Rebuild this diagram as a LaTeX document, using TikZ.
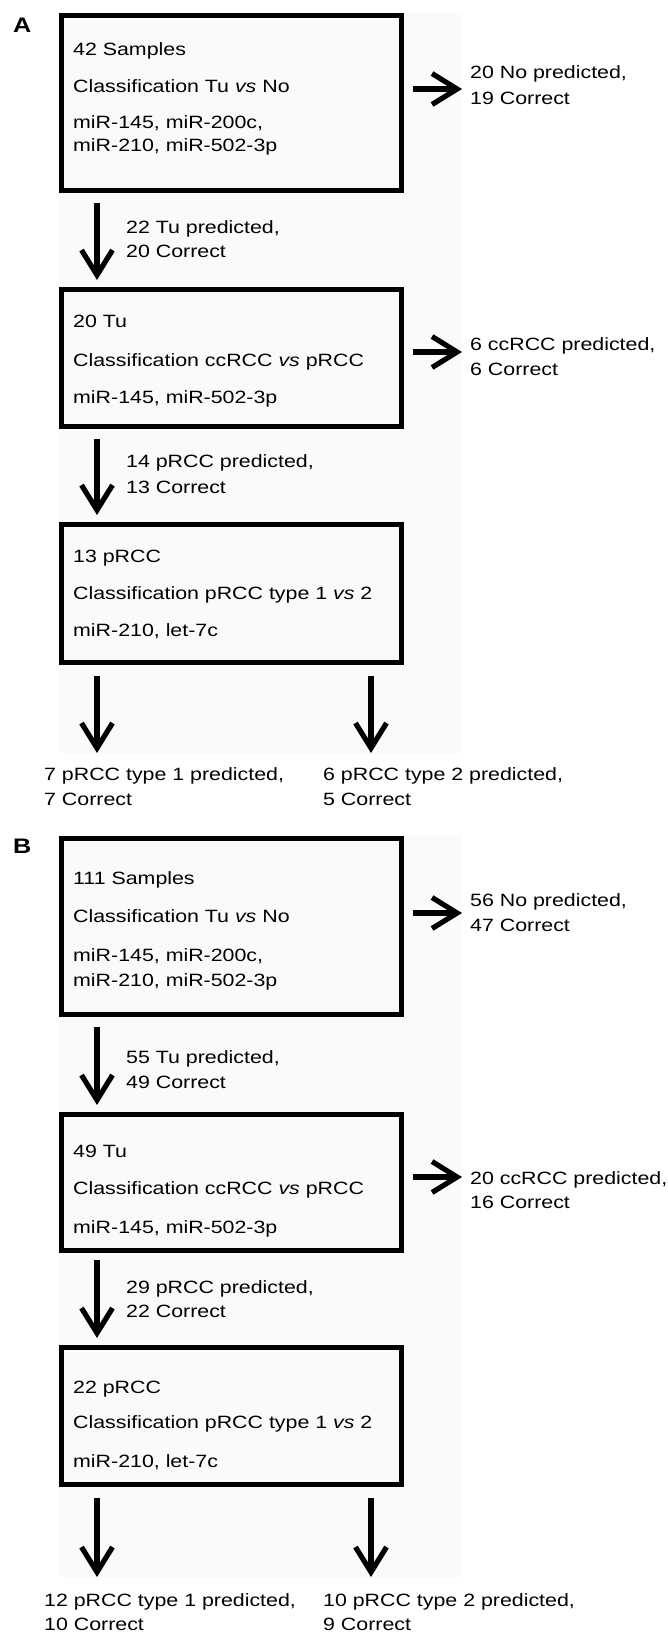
\documentclass[tikz,border=0pt]{standalone}
\usepackage{fontspec}
\setmainfont{Liberation Sans}[FakeStretch=1.2]
\usetikzlibrary{arrows.meta,calc}
\definecolor{panelbg}{RGB}{250,250,250}
\begin{document}
\begin{tikzpicture}[x=1pt,y=-1pt,
  box/.style={draw, line width=5pt, rectangle, minimum width=340pt, inner sep=0pt},
  txt/.style={anchor=base west, inner sep=0pt, font=\fontsize{17.8}{21}\selectfont},
  arr/.style={line width=5.2pt, -{Straight Barb[length=25pt, width=31pt]}},
  panel/.style={anchor=base west, inner sep=0pt, font=\fontsize{21}{25}\selectfont\bfseries}]
\useasboundingbox (0,0) rectangle (668,1633);
\fill[panelbg] (59,13) rectangle (462,753);
\fill[panelbg] (59,836) rectangle (462,1577);

% ---------------- Panel A ----------------
\node[panel] (pA) at (13,32) {A};
\node[box, minimum height=175pt] (A1) at (231.5,103) {};
\node[box, minimum height=137pt] (A2) at (231.5,358) {};
\node[box, minimum height=138pt] (A3) at (231.5,593.5) {};

\node[txt] (A1t1) at (73,55) {42 Samples};
\node[txt] (A1t2) at (73,92) {Classification Tu \textit{vs} No};
\node[txt] (A1t3) at (73,128) {miR-145, miR-200c,};
\node[txt] (A1t4) at (73,151) {miR-210, miR-502-3p};

\coordinate (A1re) at (462,89);
\draw[arr] ($(A1.east|-A1re)+(9,0)$) -- (A1re);
\node[txt] (A1r1) at (470,78) {20 No predicted,};
\node[txt] (A1r2) at (470,104) {19 Correct};

\draw[arr] ($(A1.south west)+(38,10)$) -- ($(A2.north west)+(38,-7)$);
\node[txt] (A1d1) at (126,233) {22 Tu predicted,};
\node[txt] (A1d2) at (126,257) {20 Correct};

\node[txt] (A2t1) at (73,327) {20 Tu};
\node[txt] (A2t2) at (73,366) {Classification ccRCC \textit{vs} pRCC};
\node[txt] (A2t3) at (73,403) {miR-145, miR-502-3p};

\coordinate (A2re) at (462,352);
\draw[arr] ($(A2.east|-A2re)+(9,0)$) -- (A2re);
\node[txt] (A2r1) at (470,350) {6 ccRCC predicted,};
\node[txt] (A2r2) at (470,375) {6 Correct};

\draw[arr] ($(A2.south west)+(38,10)$) -- ($(A3.north west)+(38,-7)$);
\node[txt] (A2d1) at (126,467) {14 pRCC predicted,};
\node[txt] (A2d2) at (126,493) {13 Correct};

\node[txt] (A3t1) at (73,562) {13 pRCC};
\node[txt] (A3t2) at (73,599) {Classification pRCC type 1 \textit{vs} 2};
\node[txt] (A3t3) at (73,636) {miR-210, let-7c};

\coordinate (A3le) at (97,753);
\coordinate (A3ri) at (371,753);
\draw[arr] ($(A3.south west)+(38,11)$) -- (A3le);
\draw[arr] ($(A3.south west)+(312,11)$) -- (A3ri);
\node[txt] (A3l1) at (44,780) {7 pRCC type 1 predicted,};
\node[txt] (A3l2) at (44,805) {7 Correct};
\node[txt] (A3r1) at (323,780) {6 pRCC type 2 predicted,};
\node[txt] (A3r2) at (323,805) {5 Correct};

% ---------------- Panel B ----------------
\node[panel] (pB) at (13,853) {B};
\node[box, minimum height=176pt] (B1) at (231.5,926.5) {};
\node[box, minimum height=136pt] (B2) at (231.5,1182.5) {};
\node[box, minimum height=137pt] (B3) at (231.5,1416) {};

\node[txt] (B1t1) at (73,884) {111 Samples};
\node[txt] (B1t2) at (73,922) {Classification Tu \textit{vs} No};
\node[txt] (B1t3) at (73,961) {miR-145, miR-200c,};
\node[txt] (B1t4) at (73,986) {miR-210, miR-502-3p};

\coordinate (B1re) at (462,913);
\draw[arr] ($(B1.east|-B1re)+(9,0)$) -- (B1re);
\node[txt] (B1r1) at (470,906) {56 No predicted,};
\node[txt] (B1r2) at (470,931) {47 Correct};

\draw[arr] ($(B1.south west)+(38,10)$) -- ($(B2.north west)+(38,-7)$);
\node[txt] (B1d1) at (126,1063) {55 Tu predicted,};
\node[txt] (B1d2) at (126,1088) {49 Correct};

\node[txt] (B2t1) at (73,1157) {49 Tu};
\node[txt] (B2t2) at (73,1194) {Classification ccRCC \textit{vs} pRCC};
\node[txt] (B2t3) at (73,1233) {miR-145, miR-502-3p};

\coordinate (B2re) at (462,1177);
\draw[arr] ($(B2.east|-B2re)+(9,0)$) -- (B2re);
\node[txt] (B2r1) at (470,1184) {20 ccRCC predicted,};
\node[txt] (B2r2) at (470,1208) {16 Correct};

\draw[arr] ($(B2.south west)+(38,7)$) -- ($(B3.north west)+(38,-7)$);
\node[txt] (B2d1) at (126,1293) {29 pRCC predicted,};
\node[txt] (B2d2) at (126,1317) {22 Correct};

\node[txt] (B3t1) at (73,1393) {22 pRCC};
\node[txt] (B3t2) at (73,1428) {Classification pRCC type 1 \textit{vs} 2};
\node[txt] (B3t3) at (73,1467) {miR-210, let-7c};

\coordinate (B3le) at (97,1577);
\coordinate (B3ri) at (371,1577);
\draw[arr] ($(B3.south west)+(38,11)$) -- (B3le);
\draw[arr] ($(B3.south west)+(312,11)$) -- (B3ri);
\node[txt] (B3l1) at (44,1606) {12 pRCC type 1 predicted,};
\node[txt] (B3l2) at (44,1630) {10 Correct};
\node[txt] (B3r1) at (323,1606) {10 pRCC type 2 predicted,};
\node[txt] (B3r2) at (323,1630) {9 Correct};
\end{tikzpicture}
\end{document}
